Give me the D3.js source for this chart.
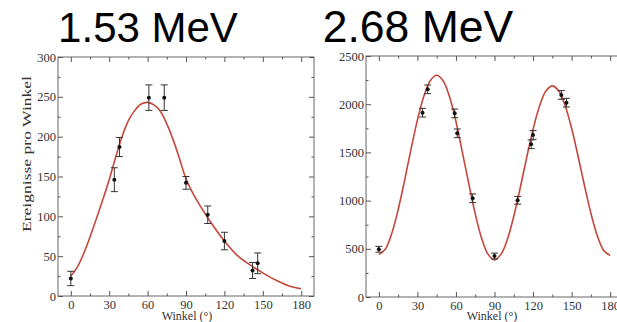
<!DOCTYPE html>
<html>
<head>
<meta charset="utf-8">
<script src="https://cdn.jsdelivr.net/npm/d3@7"></script>
<style>
  body { margin: 0; background: #fff; }
  svg { display: block; }
  .domain { display: none; }
  .tick line { stroke: #555; }
</style>
</head>
<body>
<div class="canvas"></div>
<script>

// --- 1.53 MeV panel data ---
const angles1 = [0, 34, 38, 61, 73, 90, 107, 120, 142, 146];
const counts1 = [22, 146, 187, 249, 249, 142, 102, 69, 32, 41];
const errors1 = [9, 15, 12, 16, 16, 8, 11, 11, 10, 13];
const fitAngles1 = [0, 5, 10, 15, 20, 25, 30, 35, 40, 45, 50, 55, 60, 65, 70, 75, 80, 85, 90, 95, 100, 110, 120, 130, 140, 150, 160, 170, 180];
const fitValues1 = [25, 36, 53, 74, 97, 121, 146, 174, 200, 220, 233, 241, 243, 240, 232, 216, 196, 172, 147, 130, 116, 91, 69, 51, 39, 29, 20, 13, 9];

// --- 2.68 MeV panel data ---
const angles2 = [0, 34, 38, 59, 61, 73, 90, 108, 118.5, 120, 142, 146];
const counts2 = [495, 1912, 2154, 1905, 1698, 1024, 425, 1003, 1584, 1681, 2096, 2016];
const errors2 = [30, 45, 45, 45, 45, 45, 30, 40, 45, 45, 45, 45];
const fitAngles2 = [0, 5, 10, 15, 20, 25, 30, 35, 40, 45, 50, 55, 60, 65, 70, 75, 80, 85, 90, 95, 100, 105, 110, 115, 120, 125, 130, 135, 140, 145, 150, 155, 160, 165, 170, 175, 180];
const fitValues2 = [440, 496, 658, 905, 1208, 1532, 1835, 2082, 2244, 2300, 2243, 2076, 1821, 1500, 1176, 863, 608, 442, 385, 442, 597, 837, 1131, 1444, 1739, 1979, 2136, 2190, 2137, 1984, 1750, 1463, 1157, 870, 636, 483, 430];

const xTicks = [0, 30, 60, 90, 120, 150, 180];
const xMinor = [15, 45, 75, 105, 135, 165];
const yTicks1 = [0, 50, 100, 150, 200, 250, 300];
const yMinor1 = [25, 75, 125, 175, 225, 275];
const yTicks2 = [0, 500, 1000, 1500, 2000, 2500];
const yMinor2 = [250, 750, 1250, 1750, 2250];

const width = 617;
const height = 322;

const svg = d3.select('.canvas')
    .append('svg')
        .attr('width', width)
        .attr('height', height);

const serif = '"Liberation Serif", "Times New Roman", serif';
const sans = '"Liberation Sans", Arial, sans-serif';

const styleLabels = sel => sel.selectAll('text')
    .attr('font-family', serif)
    .attr('font-size', 12.5)
    .attr('fill', '#333');

const drawPanel = (p) => {
    const x = d3.scaleLinear().domain([-10, 190]).range([p.left, p.right]);
    const y = d3.scaleLinear().domain([0, p.yMax]).range([p.bottom, p.top]);
    const g = svg.append('g');

    // frame
    g.append('rect')
        .attr('x', p.left)
        .attr('y', p.top)
        .attr('width', p.right - p.left)
        .attr('height', p.bottom - p.top)
        .attr('fill', 'none')
        .attr('stroke', '#666')
        .attr('stroke-width', 1);

    // axes, ticks pointing inward on all four sides
    g.append('g').attr('transform', `translate(0, ${p.bottom})`)
        .call(d3.axisBottom(x).tickValues(xTicks).tickSize(-5).tickPadding(4))
        .call(styleLabels);
    g.append('g').attr('transform', `translate(0, ${p.bottom})`)
        .call(d3.axisBottom(x).tickValues(xMinor).tickSize(-2.5).tickFormat(''));
    g.append('g').attr('transform', `translate(0, ${p.top})`)
        .call(d3.axisTop(x).tickValues(xTicks).tickSize(-5).tickFormat(''));
    g.append('g').attr('transform', `translate(0, ${p.top})`)
        .call(d3.axisTop(x).tickValues(xMinor).tickSize(-2.5).tickFormat(''));

    g.append('g').attr('transform', `translate(${p.left}, 0)`)
        .call(d3.axisLeft(y).tickValues(p.yTicks).tickSize(-5).tickPadding(2).tickFormat(d3.format('d')))
        .call(styleLabels);
    g.append('g').attr('transform', `translate(${p.left}, 0)`)
        .call(d3.axisLeft(y).tickValues(p.yMinor).tickSize(-2.5).tickFormat(''));
    g.append('g').attr('transform', `translate(${p.right}, 0)`)
        .call(d3.axisRight(y).tickValues(p.yTicks).tickSize(-5).tickFormat(''));
    g.append('g').attr('transform', `translate(${p.right}, 0)`)
        .call(d3.axisRight(y).tickValues(p.yMinor).tickSize(-2.5).tickFormat(''));

    // fit curve
    const line = d3.line()
        .x(d => x(d[0]))
        .y(d => y(d[1]))
        .curve(d3.curveCatmullRom);
    g.append('path')
        .datum(d3.zip(p.fitX, p.fitY))
        .attr('fill', 'none')
        .attr('stroke', '#c4473a')
        .attr('stroke-width', 1.6)
        .attr('d', line);

    // error bars
    const pts = d3.zip(p.px, p.py, p.pe);
    const bars = g.append('g').attr('stroke', '#333').attr('stroke-width', 1);
    bars.selectAll('.eb').data(pts).enter().append('line')
        .attr('x1', d => x(d[0])).attr('x2', d => x(d[0]))
        .attr('y1', d => y(d[1] - d[2])).attr('y2', d => y(d[1] + d[2]));
    bars.selectAll('.cap-top').data(pts).enter().append('line')
        .attr('x1', d => x(d[0]) - 3.5).attr('x2', d => x(d[0]) + 3.5)
        .attr('y1', d => y(d[1] + d[2])).attr('y2', d => y(d[1] + d[2]));
    bars.selectAll('.cap-bot').data(pts).enter().append('line')
        .attr('x1', d => x(d[0]) - 3.5).attr('x2', d => x(d[0]) + 3.5)
        .attr('y1', d => y(d[1] - d[2])).attr('y2', d => y(d[1] - d[2]));
    g.selectAll('circle').data(pts).enter().append('circle')
        .attr('cx', d => x(d[0]))
        .attr('cy', d => y(d[1]))
        .attr('r', 2)
        .attr('fill', '#111');

    // axis title and panel title
    g.append('text')
        .attr('x', p.xLabelX)
        .attr('y', 320)
        .attr('text-anchor', 'middle')
        .attr('font-family', serif)
        .attr('font-size', 12)
        .attr('fill', '#333')
        .text('Winkel (°)');

    g.append('text')
        .attr('x', p.titleX)
        .attr('y', 42)
        .attr('text-anchor', 'middle')
        .attr('font-family', sans)
        .attr('font-size', p.titleSize)
        .attr('fill', '#000')
        .text(p.title);
};

drawPanel({
    left: 58, right: 314, top: 57, bottom: 296, yMax: 300,
    yTicks: yTicks1, yMinor: yMinor1,
    px: angles1, py: counts1, pe: errors1,
    fitX: fitAngles1, fitY: fitValues1,
    xLabelX: 187, titleX: 148, titleSize: 42, title: '1.53 MeV'
});

drawPanel({
    left: 366, right: 623, top: 56, bottom: 297, yMax: 2500,
    yTicks: yTicks2, yMinor: yMinor2,
    px: angles2, py: counts2, pe: errors2,
    fitX: fitAngles2, fitY: fitValues2,
    xLabelX: 492, titleX: 418, titleSize: 44.5, title: '2.68 MeV'
});

// y axis title of the left panel
svg.append('text')
    .attr('transform', 'translate(31, 154) rotate(-90)')
    .attr('text-anchor', 'middle')
    .attr('font-family', serif)
    .attr('font-size', 13)
    .attr('fill', '#333')
    .attr('textLength', 156)
    .attr('lengthAdjust', 'spacingAndGlyphs')
    .text('Ereignisse pro Winkel');

</script>
</body>
</html>
